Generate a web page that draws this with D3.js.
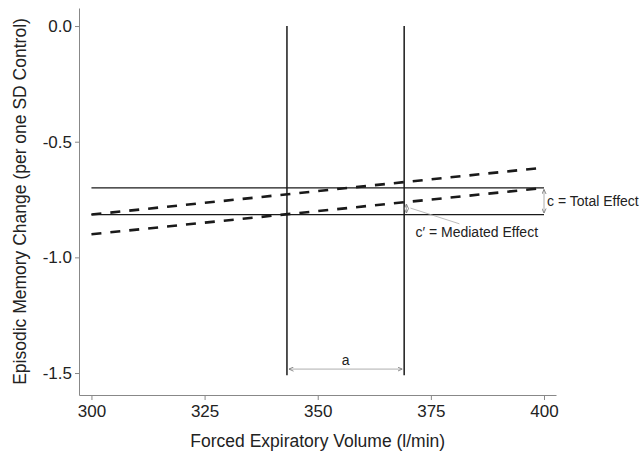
<!DOCTYPE html>
<html>
<head>
<meta charset="utf-8">
<script src="https://cdn.jsdelivr.net/npm/d3@7"></script>
<style>
  body { margin: 0; background: #fff; }
  text { font-family: "Liberation Sans", Arial, sans-serif; fill: #222; }
</style>
</head>
<body>
<div class="chart"></div>
<script>
// values
var xTicks = [300, 325, 350, 375, 400];
var yTicks = [0, -0.5, -1.0, -1.5];
var fevRange = [300, 400];
var solidLevels = [-0.70, -0.815];            // horizontal reference lines
var dashedUpper = [-0.815, -0.612];           // at fev 300 and 400
var dashedLower = [-0.90, -0.70];
var fevMarks = [343.2, 369.1];                // vertical lines
var verticalSpan = [0, -1.51];

var width = 641, height = 455;

var x = d3.scaleLinear().domain([297.25, 402.65]).range([79, 556]);
var y = d3.scaleLinear().domain([0.078, -1.595]).range([8, 395]);

var svg = d3.select(".chart").append("svg")
    .attr("width", width)
    .attr("height", height);

var defs = svg.append("defs");
defs.append("marker")
    .attr("id", "tip")
    .attr("viewBox", "0 0 6 6")
    .attr("refX", 5.5).attr("refY", 3)
    .attr("markerWidth", 5).attr("markerHeight", 5)
    .attr("markerUnits", "userSpaceOnUse")
    .attr("orient", "auto-start-reverse")
  .append("path")
    .attr("d", "M0,0.5L5.5,3L0,5.5")
    .attr("fill", "none")
    .attr("stroke", "#777")
    .attr("stroke-width", 1);

// axes
var xAxis = svg.append("g")
    .attr("transform", "translate(0,395)")
    .call(d3.axisBottom(x).tickValues(xTicks).tickSize(5).tickSizeOuter(0).tickPadding(5));
var yAxis = svg.append("g")
    .attr("transform", "translate(79,0)")
    .call(d3.axisLeft(y).tickValues(yTicks).tickSize(4).tickSizeOuter(0).tickPadding(3)
      .tickFormat(d3.format(".1f")));

[xAxis, yAxis].forEach(function(a) {
  a.select(".domain").attr("stroke", "#888");
  a.selectAll(".tick line").attr("stroke", "#888");
  a.selectAll(".tick text")
    .attr("font-family", "Liberation Sans, Arial, sans-serif")
    .attr("font-size", 17)
    .attr("fill", "#222");
});
yAxis.selectAll(".tick text").text(function(d) { return d3.format(".1f")(d).replace("−", "-"); });

// titles
svg.append("text")
    .attr("x", x(350)).attr("y", 447)
    .attr("text-anchor", "middle")
    .attr("font-size", 17.5)
    .text("Forced Expiratory Volume (l/min)");
svg.append("text")
    .attr("transform", "translate(26," + ((8 + 395) / 2) + ") rotate(-90)")
    .attr("text-anchor", "middle")
    .attr("font-size", 17.5)
    .text("Episodic Memory Change (per one SD Control)");

// solid horizontal lines
svg.selectAll(".level")
    .data(solidLevels)
  .enter().append("line")
    .attr("x1", x(fevRange[0])).attr("x2", x(fevRange[1]))
    .attr("y1", function(d) { return y(d); })
    .attr("y2", function(d) { return y(d); })
    .attr("stroke", "#1a1a1a").attr("stroke-width", 1.3);

// vertical lines
svg.selectAll(".mark")
    .data(fevMarks)
  .enter().append("line")
    .attr("x1", function(d) { return x(d); })
    .attr("x2", function(d) { return x(d); })
    .attr("y1", y(verticalSpan[0])).attr("y2", y(verticalSpan[1]))
    .attr("stroke", "#1a1a1a").attr("stroke-width", 1.5);

// dashed regression lines
var line = d3.line()
    .x(function(d) { return x(d[0]); })
    .y(function(d) { return y(d[1]); });
[dashedUpper, dashedLower].forEach(function(s) {
  svg.append("path")
      .datum([[fevRange[0], s[0]], [fevRange[1], s[1]]])
      .attr("d", line)
      .attr("fill", "none")
      .attr("stroke", "#1a1a1a")
      .attr("stroke-width", 2.6)
      .attr("stroke-dasharray", "10,9");
});

// annotations
var lowerAt = function(v) {
  return dashedLower[0] + (v - fevRange[0]) / (fevRange[1] - fevRange[0]) * (dashedLower[1] - dashedLower[0]);
};

// a
svg.append("line")
    .attr("x1", x(fevMarks[0]) + 2).attr("x2", x(fevMarks[1]) - 2)
    .attr("y1", y(-1.483)).attr("y2", y(-1.483))
    .attr("stroke", "#999").attr("stroke-width", 0.8)
    .attr("marker-start", "url(#tip)").attr("marker-end", "url(#tip)");
svg.append("text")
    .attr("x", x((fevMarks[0] + fevMarks[1]) / 2)).attr("y", y(-1.483) - 4)
    .attr("text-anchor", "middle")
    .attr("font-size", 14)
    .text("a");

// c = total effect
svg.append("line")
    .attr("x1", x(fevRange[1])).attr("x2", x(fevRange[1]))
    .attr("y1", y(solidLevels[0]) + 1.5).attr("y2", y(solidLevels[1]) - 1.5)
    .attr("stroke", "#999").attr("stroke-width", 0.8)
    .attr("marker-start", "url(#tip)").attr("marker-end", "url(#tip)");
svg.append("text")
    .attr("x", x(fevRange[1]) + 3)
    .attr("y", y((solidLevels[0] + solidLevels[1]) / 2) + 5)
    .attr("font-size", 14)
    .text("c = Total Effect");

// c' = mediated effect
var mx = fevMarks[1] + 0.5;
svg.append("line")
    .attr("x1", x(mx)).attr("x2", x(mx))
    .attr("y1", y(lowerAt(mx)) + 2).attr("y2", y(solidLevels[1]) - 1.5)
    .attr("stroke", "#999").attr("stroke-width", 0.8)
    .attr("marker-start", "url(#tip)").attr("marker-end", "url(#tip)");
svg.append("line")
    .attr("x1", x(mx) + 4).attr("y1", y(-0.787))
    .attr("x2", x(mx) + 53).attr("y2", y(-0.855))
    .attr("stroke", "#aaa").attr("stroke-width", 0.8);
svg.append("text")
    .attr("x", x(mx) + 9).attr("y", y(-0.815) + 22)
    .attr("font-size", 14)
    .text("c\u2032 = Mediated Effect");
</script>
</body>
</html>
